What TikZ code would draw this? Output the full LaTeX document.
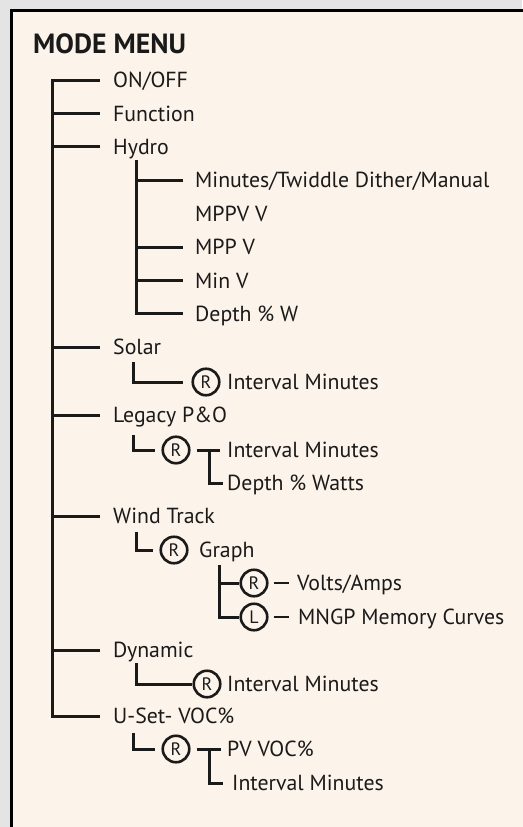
\documentclass[tikz,border=0pt]{standalone}
\usepackage{fontspec}
\setmainfont{PT Sans}
\definecolor{bggray}{HTML}{E4E4E4}
\definecolor{cream}{HTML}{FCF3EA}
\definecolor{ink}{HTML}{1A1A1A}
\begin{document}
\begin{tikzpicture}[x=1pt,y=-1pt,
  tree/.style={line width=3pt,draw=ink},
  item/.style={anchor=west,inner sep=0pt,text height=15.2pt,text depth=0pt,text=ink,font=\fontsize{21.8}{21.8}\selectfont},
  rc/.style={circle,draw=ink,line width=2.6pt,minimum size=26.5pt,inner sep=0pt,text=ink,font=\fontsize{18}{18}\selectfont},
  titlestyle/.style={anchor=base west,inner sep=0pt,text=ink,font=\fontsize{27.8}{27.8}\selectfont\bfseries}]
\useasboundingbox (0,0) rectangle (522,827);
\fill[bggray] (0,0) rectangle (522,827);
\fill[cream] (11,10.5) rectangle (530,830);
\draw[line width=3pt,black] (11,830) -- (11,10.5) -- (530,10.5);

\node[titlestyle] (title) at (33,53) {MODE MENU};

\node[item] (onoff) at (113,80) {ON/OFF};
\node[item] (function) at (113,113.4) {Function};
\node[item] (hydro) at (113,146.8) {Hydro};
\node[item] (h1) at (195,180.2) {Minutes/Twiddle Dither/Manual};
\node[item] (h2) at (195,213.6) {MPPV V};
\node[item] (h3) at (195,247) {MPP V};
\node[item] (h4) at (195,280.4) {Min V};
\node[item] (h5) at (195,313.8) {Depth \% W};
\node[item] (solar) at (113,347.2) {Solar};
\node[rc] (sr) at (206,382) {R};
\node[item] (si) at (227,382) {Interval Minutes};
\node[item] (legacy) at (113,415) {Legacy P\&O};
\node[rc] (lr) at (176,450) {R};
\node[item] (li) at (227,450) {Interval Minutes};
\node[item] (ld) at (227,483) {Depth \% Watts};
\node[item] (wind) at (113,516) {Wind Track};
\node[rc] (wr) at (174,550) {R};
\node[item] (graph) at (199,550) {Graph};
\node[rc] (gr) at (254,583) {R};
\node[item] (va) at (297,583) {Volts/Amps};
\node[rc] (gl) at (254,617) {L};
\node[item] (mngp) at (298,617) {MNGP Memory Curves};
\node[item] (dynamic) at (113,650) {Dynamic};
\node[rc] (dr) at (207,684) {R};
\node[item] (di) at (227,684) {Interval Minutes};
\node[item] (uset) at (113,716) {U-Set- VOC\%};
\node[rc] (ur) at (176,749) {R};
\node[item] (upv) at (227,749) {PV VOC\%};
\node[item] (ui) at (232,783) {Interval Minutes};

% main trunk
\coordinate (mtop) at (52,80);
\coordinate (mbot) at (52,716);
\draw[tree] ([xshift=-13pt]onoff.west) -- (mtop) -- (mbot) -- ([xshift=-13pt]uset.west);
\foreach \n in {function,hydro,solar,legacy,wind,dynamic}
  \draw[tree] ([xshift=-13pt]\n.west) -- (mtop |- \n.west);

% hydro
\coordinate (htop) at (136,160);
\draw[tree] (htop) |- ([xshift=-12pt]h5.west);
\foreach \n in {h1,h3,h4}
  \draw[tree] ([xshift=-12pt]\n.west) -- (htop |- \n.west);

% solar
\coordinate (stop) at (133,362);
\draw[tree] (stop) |- ([xshift=-8pt]sr.west);

% legacy
\coordinate (ltop) at (133,435);
\draw[tree] (ltop) |- ([xshift=-6pt]lr.west);
\coordinate (lt) at (209,450);
\draw[tree] ([xshift=6pt]lr.east) -- ([xshift=-7pt]li.west);
\draw[tree] (lt) |- ([xshift=-4pt]ld.west);

% wind
\coordinate (wtop) at (136,532);
\draw[tree] (wtop) |- ([xshift=-6pt]wr.west);
\coordinate (gtop) at (219,565);
\draw[tree] (gtop) |- (gl.west);
\draw[tree] (gr.west) -- (gtop |- gr.west);
\draw[tree,line width=2.5pt] ([xshift=5pt]gr.east) -- ([xshift=-8pt]va.west);
\draw[tree,line width=2.5pt] ([xshift=5pt]gl.east) -- ([xshift=-9pt]mngp.west);

% dynamic
\coordinate (dtop) at (136,663);
\draw[tree] (dtop) |- (dr.west);

% u-set
\coordinate (utop) at (133,733);
\draw[tree] (utop) |- ([xshift=-6pt]ur.west);
\coordinate (ut) at (209,749);
\draw[tree] ([xshift=6pt]ur.east) -- ([xshift=-6pt]upv.west);
\draw[tree] (ut) |- ([xshift=-9pt]ui.west);
\end{tikzpicture}
\end{document}
